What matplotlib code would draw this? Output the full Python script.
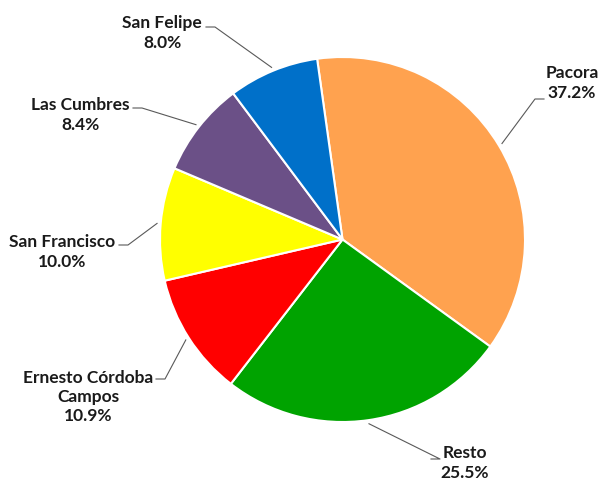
import numpy as np
import matplotlib
matplotlib.use("Agg")
import matplotlib.pyplot as plt

# data (clockwise from the top)
names = ["Pacora", "Resto", "Ernesto Córdoba\nCampos", "San Francisco", "Las Cumbres", "San Felipe"]
shares = [37.2, 25.5, 10.9, 10.0, 8.4, 8.0]
colors = ["#FFA24F", "#00A300", "#FF0000", "#FFFF00", "#6B5087", "#0070C9"]

# label text centres and elbow points (pixels, y from top)
text_xy = [(572, 83), (465, 463), (88, 397), (62, 252), (80, 115), (162, 33)]
elbow_xy = [(535, 99), (440, 459), (165, 379), (128, 245), (142, 108), (215, 27)]
elbow_side = [1, -1, -1, -1, -1, -1]

W, H = 600, 483
fig = plt.figure(figsize=(6, 4.83), dpi=100)
ax = fig.add_axes([0, 0, 1, 1])

cx, cy, r = 342.5, H - 239.5, 182.5
wedges, _ = ax.pie(shares, colors=colors, startangle=98, counterclock=False,
                   center=(cx, cy), radius=r, frame=True,
                   wedgeprops=dict(edgecolor="white", linewidth=1.5))
ax.set_xlim(0, W)
ax.set_ylim(0, H)
ax.set_aspect("equal")
ax.axis("off")

for w, name, val, (tx, ty), (ex, ey), side in zip(wedges, names, shares, text_xy, elbow_xy, elbow_side):
    mid = np.deg2rad((w.theta1 + w.theta2) / 2)
    px, py = cx + r * 1.02 * np.cos(mid), cy + r * 1.02 * np.sin(mid)
    ey = H - ey
    ax.plot([ex + 9 * side, ex, px], [ey, ey, py], color="#595959", lw=0.8)
    ax.text(tx, H - ty, f"{name}\n{val:.1f}%", ha="center", va="center",
            fontsize=12.5, fontweight="bold", family="Lato", color="#1a1a1a",
            linespacing=1.25)

fig.savefig("out.png", dpi=100)
